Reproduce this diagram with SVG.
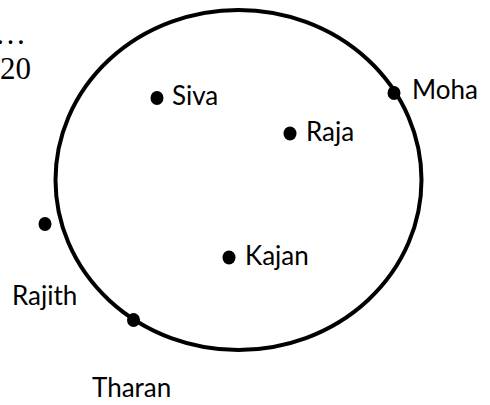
<svg xmlns="http://www.w3.org/2000/svg" width="490" height="405" viewBox="0 0 490 405">
<style>
.lbl{font-family:"Lato","Liberation Sans",sans-serif;font-size:26px;fill:#000}
.num{font-family:"Liberation Serif","Times New Roman",serif;font-size:31px;fill:#000}
.dot{fill:#000}
.ring{fill:none;stroke:#000;stroke-width:4}
</style>
<rect width="490" height="405" fill="#fff"/>
<g id="frame">
<text class="num" x="-5" y="44">…</text>
<text class="num" x="0" y="79">20</text>
</g>
<g id="set">
<ellipse class="ring" cx="238.5" cy="180" rx="183" ry="170"/>
</g>
<g id="connectors"></g>
<g id="node-siva"><ellipse class="dot" cx="157" cy="98" rx="6.5" ry="7"/><text class="lbl" x="172" y="105">Siva</text></g>
<g id="node-raja"><ellipse class="dot" cx="290" cy="133.5" rx="6.5" ry="7"/><text class="lbl" x="306" y="141">Raja</text></g>
<g id="node-kajan"><ellipse class="dot" cx="229" cy="257.5" rx="6.5" ry="7"/><text class="lbl" x="245" y="265">Kajan</text></g>
<g id="node-moha"><ellipse class="dot" cx="394" cy="93" rx="6.5" ry="7"/><text class="lbl" x="412" y="99">Moha</text></g>
<g id="node-rajith"><ellipse class="dot" cx="45" cy="224" rx="6.5" ry="7"/><text class="lbl" x="12" y="305">Rajith</text></g>
<g id="node-tharan"><ellipse class="dot" cx="133.5" cy="320" rx="6.5" ry="7"/><text class="lbl" x="92" y="397">Tharan</text></g>
</svg>
